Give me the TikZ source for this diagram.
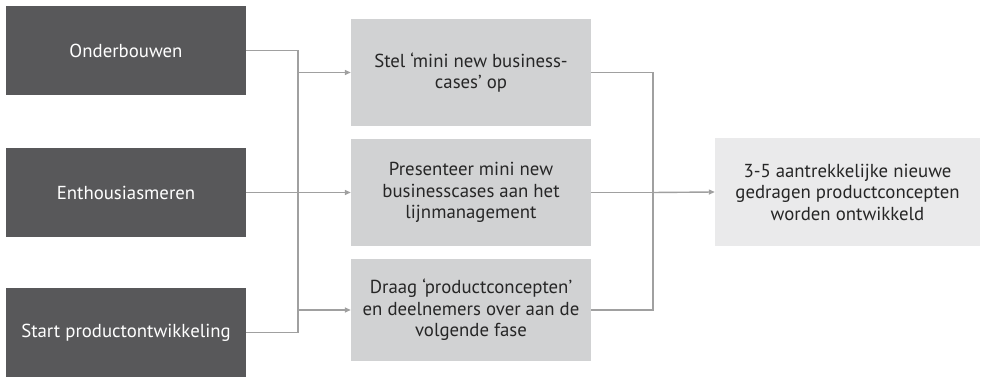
\documentclass[tikz,border=0pt]{standalone}
\usepackage{fontspec}
\setmainfont{PT Sans}
\usepackage{tikz}
\usetikzlibrary{arrows.meta}
\definecolor{darkbox}{HTML}{58585A}
\definecolor{midbox}{HTML}{D1D2D3}
\definecolor{lightbox}{HTML}{EAEAEB}
\definecolor{linegray}{HTML}{A0A0A0}

\begin{document}
\begin{tikzpicture}[x=1pt, y=1pt,
        txt/.style={font=\fontsize{18.8}{21.5}\selectfont, align=center, inner sep=0pt},
        startbox/.style={txt, fill=darkbox, text=white, minimum width=240pt, minimum height=89pt},
        stepbox/.style={txt, fill=midbox, text=black!85, minimum width=240pt},
        goalbox/.style={txt, fill=lightbox, text=black!85, minimum width=265pt, minimum height=108pt},
        link/.style={draw=linegray, line width=1.4pt},
        arr/.style={link, -{Triangle[length=6pt, width=5pt]}}]
            \useasboundingbox (0,0) rectangle (982,377);

            % Left column - dark boxes
            \node[startbox] (onder) at (126, 326.5) {Onderbouwen};
            \node[startbox] (enth) at (126, 184.5) {Enthousiasmeren};
            \node[startbox] (start) at (126, 44.5) {Start productontwikkeling};

            % Middle column - steps
            \node[stepbox, minimum height=107pt] (stel) at (471, 304.5) {Stel `mini new business-\\cases' op};
            \node[stepbox, minimum height=107pt] (pres) at (471, 184.5) {Presenteer mini new\\businesscases aan het\\lijnmanagement};
            \node[stepbox, minimum height=102pt] (draag) at (471, 67) {Draag `productconcepten'\\en deelnemers over aan de\\volgende fase};

            % Right - result
            \node[goalbox] (doel) at (847.5, 185) {3-5 aantrekkelijke nieuwe\\gedragen productconcepten\\worden ontwikkeld};

            % Connectors
            \coordinate (jl) at (298, 0);
            \coordinate (jr) at (653, 0);
            \draw[link] (onder.east) -| (jl |- start.east) -- (start.east);
            \draw[arr] (jl |- stel.west) -- (stel.west);
            \draw[arr] (enth.east) -- (pres.west);
            \draw[arr] (jl |- draag.west) -- (draag.west);
            \draw[link] (stel.east) -| (jr |- draag.east) -- (draag.east);
            \draw[link] (pres.east) -- (jr |- pres.east);
            \draw[arr] (jr |- pres.east) -- (doel.west);
\end{tikzpicture}
\end{document}
